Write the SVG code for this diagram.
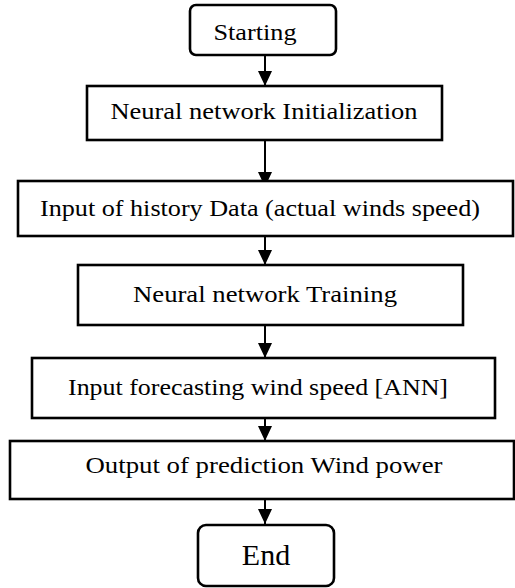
<svg xmlns="http://www.w3.org/2000/svg" width="515" height="588" viewBox="0 0 515 588">
<defs>
<style>
.box{fill:#fff;stroke:#000;stroke-width:2.6}
.t{font-family:'Liberation Serif','Times New Roman',Times,serif;font-size:24px;fill:#000;text-anchor:middle}
.c{stroke:#000;stroke-width:2;fill:none}
</style>
<marker id="ah" markerUnits="userSpaceOnUse" markerWidth="16" markerHeight="16" viewBox="0 0 16 16" refX="15" refY="8" orient="auto">
<path d="M0,1 L15,8 L0,15 Z" fill="#000"/>
</marker>
</defs>
<g id="connectors">
<line class="c" x1="265" y1="55" x2="265" y2="86" marker-end="url(#ah)"/>
<line class="c" x1="265" y1="140" x2="265" y2="187" marker-end="url(#ah)"/>
<line class="c" x1="265" y1="236" x2="265" y2="265" marker-end="url(#ah)"/>
<line class="c" x1="265" y1="325" x2="265" y2="358" marker-end="url(#ah)"/>
<line class="c" x1="265" y1="418" x2="265" y2="441" marker-end="url(#ah)"/>
<line class="c" x1="265" y1="499" x2="265" y2="524" marker-end="url(#ah)"/>
</g>
<g id="start">
<rect class="box" x="190" y="5" width="146" height="50" rx="6"/>
<text class="t" x="255" y="40" textLength="83" lengthAdjust="spacingAndGlyphs">Starting</text>
</g>
<g id="init">
<rect class="box" x="87" y="86" width="355" height="54"/>
<text class="t" x="264" y="119" textLength="307" lengthAdjust="spacingAndGlyphs">Neural network Initialization</text>
</g>
<g id="history">
<rect class="box" x="18" y="181" width="495" height="55"/>
<text class="t" x="260" y="216" textLength="440" lengthAdjust="spacingAndGlyphs">Input of history Data (actual winds speed)</text>
</g>
<g id="training">
<rect class="box" x="78" y="265" width="385" height="60"/>
<text class="t" x="265" y="302" textLength="264" lengthAdjust="spacingAndGlyphs">Neural network Training</text>
</g>
<g id="forecast">
<rect class="box" x="32" y="358" width="463" height="60"/>
<text class="t" x="258" y="395" textLength="380" lengthAdjust="spacingAndGlyphs">Input forecasting wind speed [ANN]</text>
</g>
<g id="output">
<rect class="box" x="10" y="441" width="504" height="58"/>
<text class="t" x="264" y="473" textLength="357" lengthAdjust="spacingAndGlyphs">Output of prediction Wind power</text>
</g>
<g id="end">
<rect class="box" x="198" y="525" width="136" height="61" rx="8"/>
<text class="t" x="266" y="565" style="font-size:30px">End</text>
</g>
</svg>
